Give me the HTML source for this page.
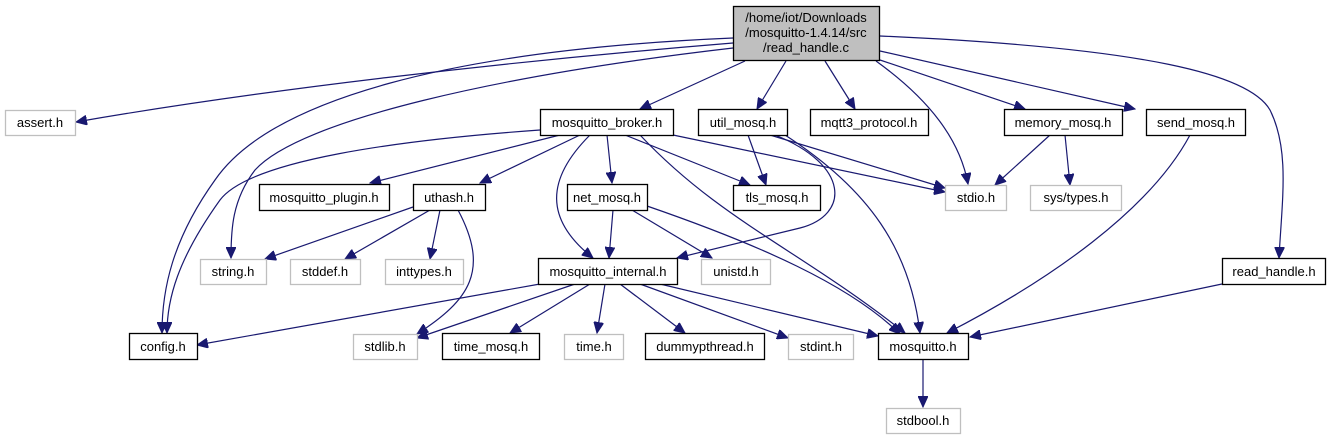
<!DOCTYPE html>
<html><head><meta charset="utf-8"><style>
html,body{margin:0;padding:0;background:#fff;}
svg{display:block;}
text{font-family:"Liberation Sans",sans-serif;font-size:13px;text-anchor:middle;fill:#000;}
.b{fill:#fff;stroke:#000;stroke-width:1.3;}
.g{fill:#fff;stroke:#bfbfbf;stroke-width:1.3;}
.e{fill:none;stroke:#191970;stroke-width:1.2;marker-end:url(#a);}
</style></head><body>
<svg width="1333" height="440" viewBox="0 0 1333 440">
<defs><marker id="a" markerWidth="12" markerHeight="10" refX="11" refY="5" orient="auto" markerUnits="userSpaceOnUse"><path d="M0,0 L11,5 L0,10 z" fill="#191970" stroke="#191970"/></marker></defs>
<path class="e" d="M733,43 C 500,62 260,90 76,122"/>
<path class="e" d="M733,38 C 450,50 270,100 215,180 C 172,240 162,290 162,333"/>
<path class="e" d="M540,130 C 400,140 250,160 220,200 C 177,260 167,300 167,333"/>
<path class="e" d="M733,48 C 500,75 300,120 255,170 C 232,200 231,230 231,258"/>
<path class="e" d="M745,61 L640,109"/>
<path class="e" d="M786,61 L757,109"/>
<path class="e" d="M825,61 L855,109"/>
<path class="e" d="M876,61 C 930,100 960,140 968,184"/>
<path class="e" d="M880,60 L1025,109"/>
<path class="e" d="M880,51 L1135,109"/>
<path class="e" d="M880,36 C 1150,48 1250,75 1270,110 C 1290,150 1282,200 1279,258"/>
<path class="e" d="M560,135 L370,183"/>
<path class="e" d="M580,135 L480,183"/>
<path class="e" d="M607,135 L612,183"/>
<path class="e" d="M590,135 C 545,180 545,220 593,258"/>
<path class="e" d="M625,135 L750,185"/>
<path class="e" d="M673,135 L945,192"/>
<path class="e" d="M640,135 C 720,220 800,250 905,333"/>
<path class="e" d="M748,135 L766,185"/>
<path class="e" d="M770,135 L945,188"/>
<path class="e" d="M775,135 C 850,165 850,215 800,228 C 740,243 700,252 677,258"/>
<path class="e" d="M785,135 C 870,190 910,250 920,333"/>
<path class="e" d="M1050,135 L995,185"/>
<path class="e" d="M1065,135 L1070,185"/>
<path class="e" d="M1190,135 C 1150,210 1050,280 947,333"/>
<path class="e" d="M413,207 L265,259"/>
<path class="e" d="M430,210 L345,259"/>
<path class="e" d="M440,210 L430,259"/>
<path class="e" d="M458,210 C 490,270 470,300 417,334"/>
<path class="e" d="M613,210 L609,258"/>
<path class="e" d="M632,210 L712,258"/>
<path class="e" d="M647,206 C 760,245 850,285 900,334"/>
<path class="e" d="M540,284 L197,345"/>
<path class="e" d="M575,284 L417,338"/>
<path class="e" d="M590,284 L510,333"/>
<path class="e" d="M605,284 L597,333"/>
<path class="e" d="M620,284 L685,333"/>
<path class="e" d="M640,284 L788,338"/>
<path class="e" d="M660,284 L878,336"/>
<path class="e" d="M1222,284 L970,337"/>
<path class="e" d="M923,359 L923,407"/>
<rect x="733.5" y="6.5" width="146" height="54" fill="#bfbfbf" stroke="#000" stroke-width="1.3"/>
<text x="806" y="22">/home/iot/Downloads</text>
<text x="806" y="37">/mosquitto-1.4.14/src</text>
<text x="806" y="52">/read_handle.c</text>
<rect class="g" x="5.5" y="110.5" width="70" height="25"/><text x="40" y="127">assert.h</text>
<rect class="b" x="540.5" y="109.5" width="133" height="26"/><text x="607" y="127">mosquitto_broker.h</text>
<rect class="b" x="698.5" y="109.5" width="89" height="26"/><text x="743" y="127">util_mosq.h</text>
<rect class="b" x="810.5" y="109.5" width="118" height="26"/><text x="869" y="127">mqtt3_protocol.h</text>
<rect class="b" x="1004.5" y="109.5" width="118" height="26"/><text x="1063" y="127">memory_mosq.h</text>
<rect class="b" x="1146.5" y="109.5" width="99" height="26"/><text x="1196" y="127">send_mosq.h</text>
<rect class="b" x="259.5" y="184.5" width="130" height="26"/><text x="324" y="202">mosquitto_plugin.h</text>
<rect class="b" x="413.5" y="184.5" width="72" height="26"/><text x="449" y="202">uthash.h</text>
<rect class="b" x="567.5" y="184.5" width="80" height="26"/><text x="607" y="202">net_mosq.h</text>
<rect class="b" x="733.5" y="185.5" width="87" height="25"/><text x="777" y="202">tls_mosq.h</text>
<rect class="g" x="945.5" y="185.5" width="61" height="25"/><text x="976" y="202">stdio.h</text>
<rect class="g" x="1030.5" y="185.5" width="91" height="25"/><text x="1076" y="202">sys/types.h</text>
<rect class="g" x="200.5" y="259.5" width="66" height="25"/><text x="233" y="276">string.h</text>
<rect class="g" x="290.5" y="259.5" width="70" height="25"/><text x="325" y="276">stddef.h</text>
<rect class="g" x="385.5" y="259.5" width="78" height="25"/><text x="424" y="276">inttypes.h</text>
<rect class="b" x="538.5" y="258.5" width="139" height="26"/><text x="608" y="276">mosquitto_internal.h</text>
<rect class="g" x="701.5" y="259.5" width="69" height="25"/><text x="736" y="276">unistd.h</text>
<rect class="b" x="1222.5" y="258.5" width="103" height="26"/><text x="1274" y="276">read_handle.h</text>
<rect class="b" x="129.5" y="333.5" width="68" height="26"/><text x="163" y="351">config.h</text>
<rect class="g" x="353.5" y="334.5" width="64" height="25"/><text x="385" y="351">stdlib.h</text>
<rect class="b" x="442.5" y="333.5" width="97" height="26"/><text x="491" y="351">time_mosq.h</text>
<rect class="g" x="564.5" y="334.5" width="59" height="25"/><text x="594" y="351">time.h</text>
<rect class="b" x="645.5" y="333.5" width="119" height="26"/><text x="705" y="351">dummypthread.h</text>
<rect class="g" x="788.5" y="334.5" width="65" height="25"/><text x="821" y="351">stdint.h</text>
<rect class="b" x="878.5" y="333.5" width="90" height="26"/><text x="923" y="351">mosquitto.h</text>
<rect class="g" x="886.5" y="408.5" width="74" height="25"/><text x="923" y="425">stdbool.h</text>
</svg>
</body></html>
